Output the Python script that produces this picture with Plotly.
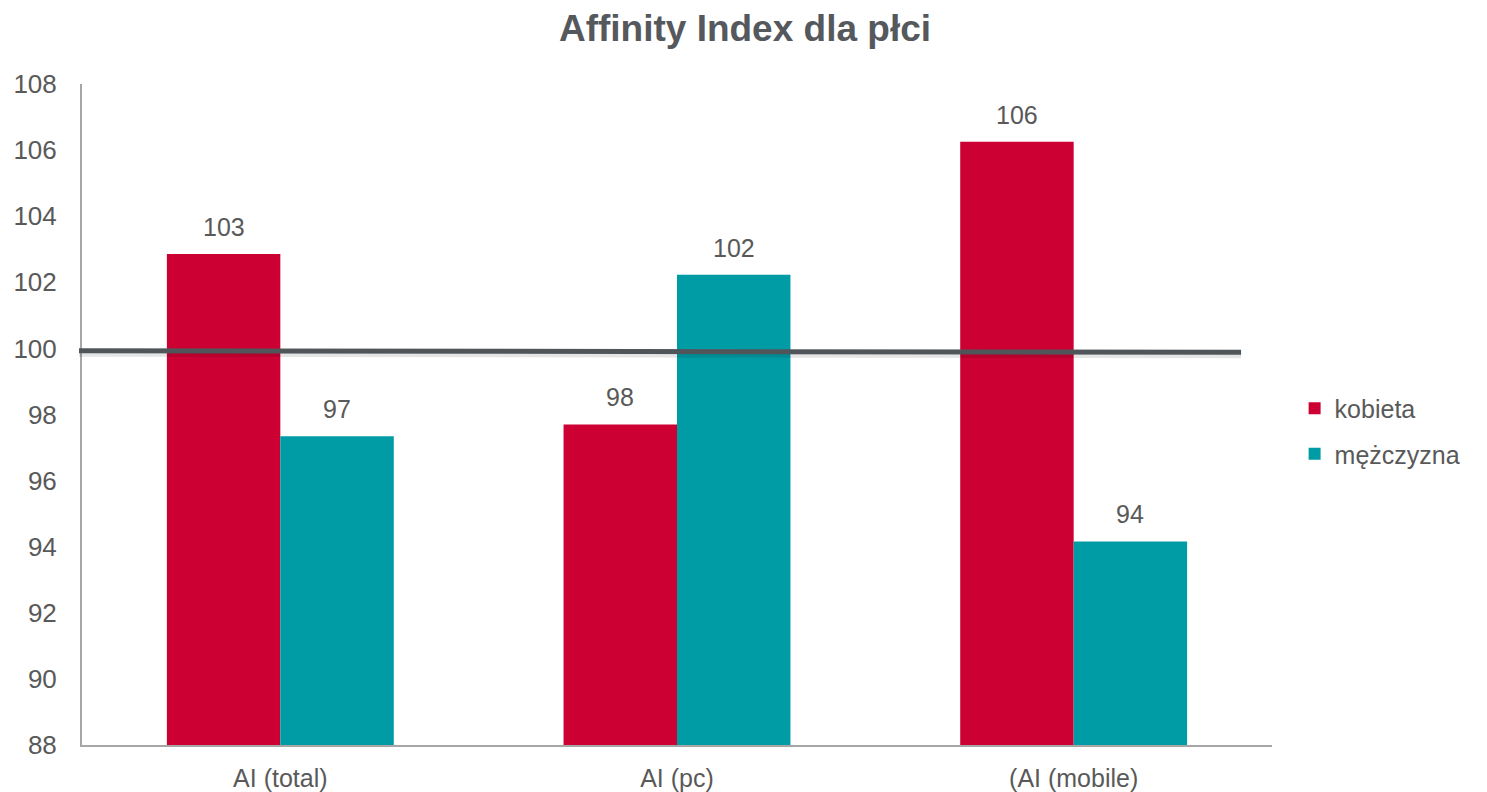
import plotly.graph_objects as go

categories = ["AI (total)", "AI (pc)", "(AI (mobile)"]
kobieta = [102.86, 97.70, 106.25]
mezczyzna = [97.34, 102.23, 94.16]
series_names = ["kobieta", "mężczyzna"]
colors = ["#CC0033", "#009CA6"]
y_ticks = list(range(88, 109, 2))
ref_line = [99.93, 99.88]  # reference line near 100 (start, end)

TEXT = "#595959"
FONT = "Liberation Sans, Arial, sans-serif"
bargap = 0.428
bw = (1 - bargap) / 2
W, H = 1479, 784  # page has an 8px body margin

fig = go.Figure()
for name, vals, col in zip(series_names, [kobieta, mezczyzna], colors):
    fig.add_trace(go.Bar(x=categories, y=vals, name=name, marker_color=col,
                         marker_line_width=0, legendgroup=name))

annotations = []
for k, vals in enumerate([kobieta, mezczyzna]):
    off = -bw / 2 if k == 0 else bw / 2
    for i, v in enumerate(vals):
        annotations.append(dict(x=i + off, y=v, xref="x", yref="y", text=str(round(v)),
                                showarrow=False, yanchor="bottom", yshift=11,
                                font=dict(size=25, color=TEXT, family=FONT)))

fig.update_layout(
    width=W, height=H,
    paper_bgcolor="white", plot_bgcolor="white",
    margin=dict(l=74, r=215, t=76, b=47),
    barmode="group", bargap=bargap, bargroupgap=0,
    font=dict(family=FONT, size=25, color=TEXT),
    title=dict(text="<b>Affinity Index dla płci</b>", x=(745 - 8) / W, xanchor="center",
               y=1 - 20 / H, yanchor="middle",
               font=dict(size=37, color="#55585c", family=FONT)),
    legend=dict(x=1.019, xanchor="left", y=0.475, yanchor="middle",
                font=dict(size=25, color=TEXT, family=FONT),
                traceorder="grouped", tracegroupgap=10, itemwidth=30,
                bgcolor="rgba(0,0,0,0)"),
    annotations=annotations,
    showlegend=True,
)
fig.update_xaxes(showline=True, linecolor="#a6a6a6", linewidth=2, showgrid=False,
                 ticks="", tickfont=dict(size=25, color=TEXT), ticklabelstandoff=10,
                 automargin=False, zeroline=False)
fig.update_yaxes(range=[88, 108], tickvals=y_ticks, showline=True, linecolor="#a6a6a6",
                 linewidth=2, showgrid=False, zeroline=False, ticks="",
                 tickfont=dict(size=26, color=TEXT), ticklabelstandoff=18, automargin=False)

# shadow + reference line
fig.add_shape(type="line", xref="paper", yref="y", x0=-0.0025, x1=0.974,
              y0=ref_line[0] - 0.09, y1=ref_line[1] - 0.09,
              line=dict(color="rgba(0,0,0,0.10)", width=6), layer="above")
fig.add_shape(type="line", xref="paper", yref="y", x0=-0.0025, x1=0.974,
              y0=ref_line[0], y1=ref_line[1],
              line=dict(color="#50555a", width=5), layer="above")

fig.write_html("out.html")
